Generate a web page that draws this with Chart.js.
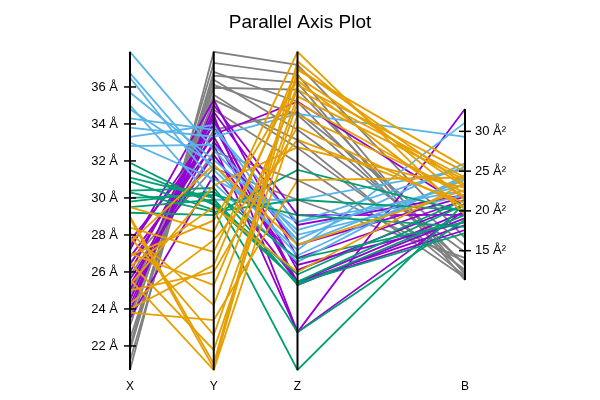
<!DOCTYPE html>
<html>
<head>
<meta charset="utf-8">
<script src="https://cdn.jsdelivr.net/npm/chart.js@4/dist/chart.umd.min.js"></script>
<style>
  body { margin: 0; background: #fff; }
</style>
</head>
<body>
<canvas id="myChart" width="600" height="400"></canvas>
<script>
// axes of the parallel plot (slot 3 is an empty gap before B)
var axisNames = ['X', 'Y', 'Z', 'B'];
var axisSlots = [0, 1, 2, 4];
var xTicks = [22, 24, 26, 28, 30, 32, 34, 36];
var bTicks = [15, 20, 25, 30];
var bRange = [0, 40];

// one row per observation: [X (Å), Y (%), Z (%), B (Å²)]
var grayLines = [
    [20.7, 100, 95.9, 16.6], [21.2, 92.5, 90.3, 11.3], [21.8, 93.7, 84.3, 12.2],
    [22.4, 88.7, 88.1, 13.1], [23.1, 91.2, 75.5, 14.8], [23.8, 84.9, 72.3, 11.8],
    [24.5, 86.5, 69.8, 12.6], [25.0, 75.5, 81.1, 15.7], [25.8, 68.6, 59.7, 13.6],
    [26.5, 63.5, 53.5, 14.1], [22.0, 96.5, 92.8, 12.0], [23.5, 89.6, 80.2, 13.3],
    [24.8, 81.8, 65.1, 11.6]
];
var purpleLines = [
    [27.7, 73.3, 27.7, 19.9], [27.2, 84.9, 35.2, 21.4], [26.8, 70.8, 11.9, 32.8],
    [26.4, 74.0, 84.3, 20.5], [26.0, 79.2, 27.4, 17.6], [25.6, 67.6, 33.0, 18.6],
    [25.0, 81.1, 45.6, 22.0], [24.5, 78.0, 31.4, 20.8], [23.9, 83.3, 48.7, 19.5],
    [23.5, 61.3, 27.7, 18.2], [27.4, 77.0, 26.7, 19.1], [25.3, 71.7, 39.3, 21.8],
    [24.2, 80.2, 11.9, 20.1]
];
var blueLines = [
    [37.9, 69.2, 40.9, 26.0], [36.75, 62.9, 37.7, 31.1], [36.5, 58.8, 34.0, 24.5],
    [35.7, 66.0, 44.0, 23.3], [35.0, 53.5, 53.5, 25.2], [34.3, 75.5, 46.5, 22.6],
    [33.8, 73.3, 80.5, 29.3], [33.3, 77.0, 39.3, 23.9], [32.8, 70.8, 42.5, 22.0],
    [34.8, 64.5, 36.0, 24.2], [33.0, 60.0, 46.5, 25.5]
];
var greenLines = [
    [31.9, 51.9, 27.7, 20.8], [31.1, 54.1, 11.9, 18.9], [30.9, 50.3, 0, 21.0],
    [30.4, 57.2, 26.7, 19.5], [30.3, 49.7, 53.5, 20.1], [30.0, 55.0, 48.7, 18.0],
    [29.5, 53.5, 27.4, 17.2], [29.2, 48.7, 62.9, 19.9], [31.5, 52.5, 30.0, 21.4],
    [29.8, 56.0, 35.0, 18.6]
];
var orangeLines = [
    [29.5, 43.4, 100, 19.5], [28.9, 0.6, 94.3, 25.5], [28.4, 37.1, 92.1, 23.0],
    [28.1, 20.4, 89.6, 24.9], [27.6, 64.5, 39.3, 22.6], [27.0, 26.7, 88.1, 24.2],
    [26.5, 6.3, 84.0, 21.8], [26.3, 51.3, 30.8, 23.5], [25.6, 0, 80.2, 22.3],
    [25.0, 30.8, 76.4, 20.5], [24.3, 40.9, 72.3, 21.0], [23.8, 15.7, 59.7, 24.2],
    [29.0, 2.0, 97.0, 21.4], [27.9, 11.0, 86.0, 23.9], [26.9, 47.0, 91.0, 20.2],
    [25.3, 58.0, 70.0, 22.9], [24.0, 33.0, 95.0, 23.3]
];

var groups = [grayLines, purpleLines, blueLines, greenLines, orangeLines];
var groupColors = ['#808080', '#9400D3', '#56B4E9', '#009E73', '#E69F00'];

Chart.defaults.font.family = "'Liberation Sans', Arial, sans-serif";
Chart.defaults.color = '#000';

var allRows = [].concat.apply([], groups);
function column(i) { return allRows.map(function (r) { return r[i]; }); }
var ranges = [0, 1, 2, 3].map(function (i) {
    var c = column(i);
    return [Math.min.apply(null, c), Math.max.apply(null, c)];
});
var dataRanges = ranges.slice();
ranges[3] = bRange; // B keeps its own fixed range
var lo = ranges[0][0], hi = ranges[0][1];

// map a value on axis i into the units of the left (X) scale
function toLeft(i, v) {
    return lo + (v - ranges[i][0]) / (ranges[i][1] - ranges[i][0]) * (hi - lo);
}

var datasets = [];
groups.forEach(function (rows, g) {
    rows.forEach(function (r) {
        datasets.push({
            data: r.map(function (v, i) { return { x: axisSlots[i], y: toLeft(i, v) }; }),
            borderColor: groupColors[g],
            borderWidth: 1.8,
            pointRadius: 0,
            clip: false,
            order: 10 - g
        });
    });
});

// axis lines, spanning each axis' data range
axisSlots.forEach(function (s, i) {
    datasets.push({
        data: [{ x: s, y: toLeft(i, dataRanges[i][0]) }, { x: s, y: toLeft(i, dataRanges[i][1]) }],
        borderColor: '#000',
        borderWidth: 2,
        pointRadius: 0,
        clip: false,
        order: -1
    });
});

// tick marks on X and B
datasets.push({
    data: xTicks.map(function (v) { return { x: 0, y: v }; })
        .concat(bTicks.map(function (v) { return { x: 4, y: toLeft(3, v) }; })),
    showLine: false,
    pointStyle: 'line',
    pointRadius: 6,
    pointBorderWidth: 1.5,
    borderColor: '#000',
    clip: false,
    order: -2
});

var ctx = document.getElementById("myChart").getContext('2d');
var myChart = new Chart(ctx, {
    type: 'line',
    data: { datasets: datasets },
    options: {
        responsive: false,
        animation: false,
        layout: { padding: 0 },
        plugins: {
            legend: { display: false },
            tooltip: { enabled: false },
            title: {
                display: true,
                text: 'Parallel Axis Plot',
                font: { size: 19, weight: 'normal' },
                color: '#000',
                padding: { top: 11, bottom: 18 }
            }
        },
        scales: {
            x: {
                type: 'linear',
                min: 0,
                max: 4,
                afterBuildTicks: function (s) { s.ticks = axisSlots.map(function (v) { return { value: v }; }); },
                afterFit: function (s) { s.height = 30; },
                grid: { display: false, drawTicks: false },
                border: { display: false },
                ticks: {
                    autoSkip: false,
                    maxRotation: 0,
                    padding: 9,
                    font: { size: 12 },
                    callback: function (v) { return axisNames[axisSlots.indexOf(v)]; }
                }
            },
            y: {
                position: 'left',
                min: lo,
                max: hi,
                afterBuildTicks: function (s) { s.ticks = xTicks.map(function (v) { return { value: v }; }); },
                afterFit: function (s) { s.width = 130; },
                grid: { display: false, drawTicks: false },
                border: { display: false },
                ticks: {
                    padding: 12,
                    font: { size: 13 },
                    callback: function (v) { return v + ' Å'; }
                }
            },
            y2: {
                position: 'right',
                min: bRange[0],
                max: bRange[1],
                afterBuildTicks: function (s) { s.ticks = bTicks.map(function (v) { return { value: v }; }); },
                afterFit: function (s) { s.width = 135; },
                grid: { display: false, drawTicks: false },
                border: { display: false },
                ticks: {
                    padding: 10,
                    font: { size: 13 },
                    callback: function (v) { return v + ' Å²'; }
                }
            }
        }
    }
});
</script>
</body>
</html>
